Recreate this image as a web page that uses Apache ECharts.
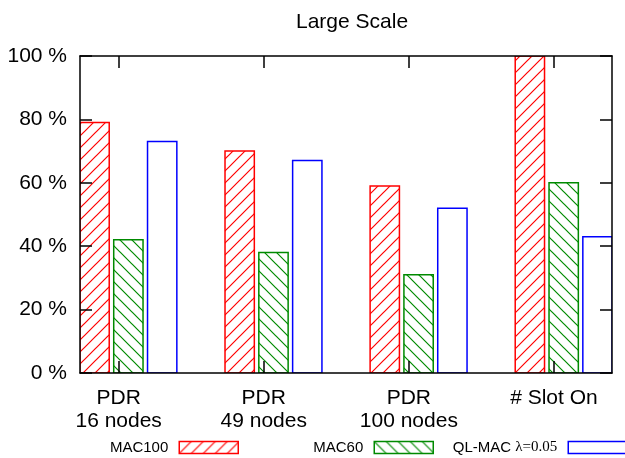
<!DOCTYPE html>
<html>
<head>
<meta charset="utf-8">
<script src="https://cdn.jsdelivr.net/npm/echarts@6/dist/echarts.min.js"></script>
<style>html,body{margin:0;padding:0;background:#fff}#c{width:625px;height:458px}</style>
</head>
<body>
<div id="c"></div>
<script>
var categories = ['PDR\n16 nodes', 'PDR\n49 nodes', 'PDR\n100 nodes', '# Slot On'];
var seriesNames = ['MAC100', 'MAC60', 'QL-MAC λ=0.05'];
var mac100 = [79, 70, 59, 100];
var mac60 = [42, 38, 31, 60];
var qlmac = [73, 67, 52, 43];
var yTicks = [0, 20, 40, 60, 80, 100];

var FONT = 'Liberation Sans, Arial, sans-serif';
var colors = ['#ff0000', '#008a00', '#0000ff'];
var offsets = [-0.166, 0.067, 0.3];
var barW = 0.202;

function hatch(color, dir) {
  var s = 12, c = document.createElement('canvas');
  c.width = s; c.height = s;
  var g = c.getContext('2d');
  g.strokeStyle = color; g.lineWidth = 1.2;
  g.beginPath();
  if (dir === '/') {
    g.moveTo(-2, s + 2); g.lineTo(s + 2, -2);
    g.moveTo(-2, 2); g.lineTo(2, -2);
    g.moveTo(s - 2, s + 2); g.lineTo(s + 2, s - 2);
  } else {
    g.moveTo(-2, -2); g.lineTo(s + 2, s + 2);
    g.moveTo(s - 2, -2); g.lineTo(s + 2, 2);
    g.moveTo(-2, s - 2); g.lineTo(2, s + 2);
  }
  g.stroke();
  return { image: c, repeat: 'repeat' };
}
var fills = [hatch(colors[0], '/'), hatch(colors[1], '\\'), '#ffffff'];
var allData = [mac100, mac60, qlmac];

function makeSeries(k) {
  return {
    type: 'custom',
    name: seriesNames[k],
    clip: true,
    z: 2,
    itemStyle: { color: fills[k], borderColor: colors[k], borderWidth: 1.5 },
    data: allData[k].map(function (v, i) { return [i, v]; }),
    renderItem: function (params, api) {
      var ci = api.value(0), v = api.value(1);
      var p0 = api.coord([ci + offsets[k] - barW / 2, v]);
      var p1 = api.coord([ci + offsets[k] + barW / 2, 0]);
      return {
        type: 'rect',
        shape: { x: p0[0], y: p0[1], width: p1[0] - p0[0], height: p1[1] - p0[1] },
        style: { fill: fills[k], stroke: colors[k], lineWidth: 1.5 }
      };
    }
  };
}

var catIdx = categories.map(function (c, i) { return i; });
var axisLine = { show: true, onZero: false, lineStyle: { color: '#000', width: 1.5 } };
var tickStyle = { color: '#000', width: 1.5 };

function legendFor(k, right) {
  return {
    selectedMode: false,
    align: 'right',
    right: right,
    top: 435,
    itemWidth: 59,
    itemHeight: 12,
    data: [{ name: seriesNames[k], icon: 'rect', itemStyle: { color: fills[k], borderColor: colors[k], borderWidth: 1.5 } }],
    formatter: k === 2 ? function () { return 'QL-MAC {s|λ=0.05}'; } : undefined,
    textStyle: {
      fontFamily: FONT, fontSize: 15, color: '#000', padding: [0, 6, 0, 0],
      rich: { s: { fontFamily: 'Liberation Serif, Times New Roman, serif', fontSize: 15, color: '#000' } }
    }
  };
}

var chart = echarts.init(document.getElementById('c'), null, { renderer: 'canvas' });
chart.setOption({
  animation: false,
  backgroundColor: '#fff',
  title: {
    text: 'Large Scale',
    left: 291, top: 7,
    textStyle: { fontFamily: FONT, fontSize: 21, fontWeight: 'normal', color: '#000' }
  },
  grid: { left: 80, right: 13, top: 56, bottom: 85, containLabel: false },
  legend: [legendFor(0, 381), legendFor(1, 186), legendFor(2, -8)],
  xAxis: [{
    type: 'value', position: 'bottom', min: -0.2664, max: 3.4, z: 5,
    axisLine: axisLine,
    axisTick: { show: true, inside: true, length: 12, lineStyle: tickStyle, customValues: catIdx },
    axisLabel: {
      show: true, customValues: catIdx, margin: 14,
      fontFamily: FONT, fontSize: 21, color: '#000', lineHeight: 23, align: 'center',
      formatter: function (v) { return categories[Math.round(v)]; }
    },
    splitLine: { show: false }
  }, {
    type: 'value', position: 'top', min: -0.2664, max: 3.4, z: 5,
    axisLine: axisLine,
    axisTick: { show: true, inside: true, length: 12, lineStyle: tickStyle, customValues: catIdx },
    axisLabel: { show: false },
    splitLine: { show: false }
  }],
  yAxis: [{
    type: 'value', position: 'left', min: yTicks[0], max: yTicks[yTicks.length - 1], interval: 20, z: 5,
    axisLine: axisLine,
    axisTick: { show: true, inside: true, length: 12, lineStyle: tickStyle },
    axisLabel: { fontFamily: FONT, fontSize: 21, color: '#000', margin: 13, formatter: '{value} %' },
    splitLine: { show: false }
  }, {
    type: 'value', position: 'right', min: yTicks[0], max: yTicks[yTicks.length - 1], interval: 20, z: 5,
    axisLine: axisLine,
    axisTick: { show: true, inside: true, length: 12, lineStyle: tickStyle },
    axisLabel: { show: false },
    splitLine: { show: false }
  }],
  series: [makeSeries(0), makeSeries(1), makeSeries(2)]
});
</script>
</body>
</html>
